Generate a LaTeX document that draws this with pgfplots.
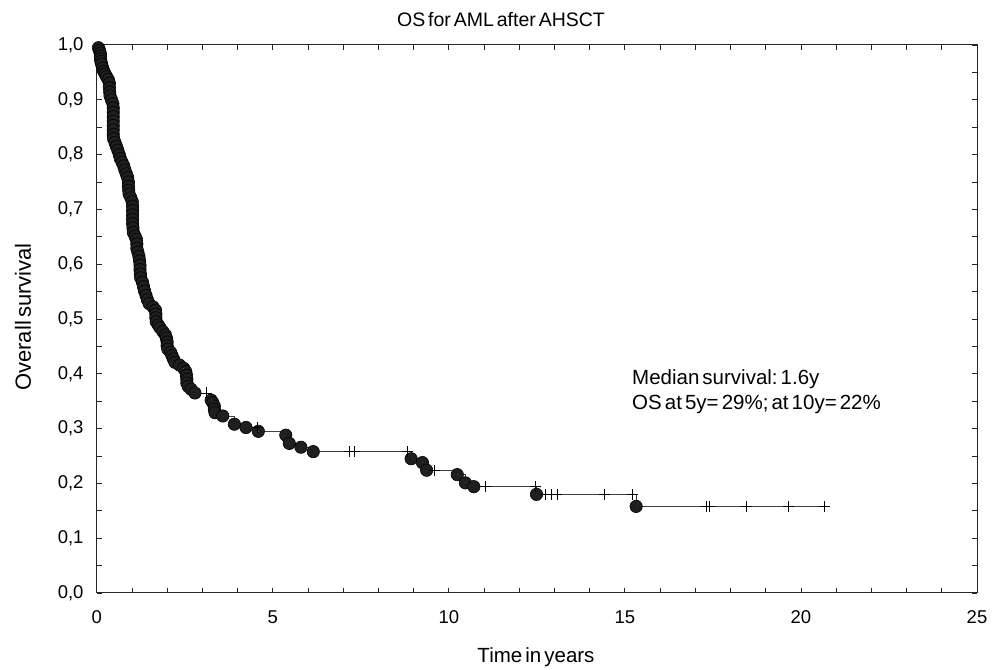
\documentclass[border=0pt]{standalone}
\usepackage{pgfplots}
\pgfplotsset{compat=1.18}
\usepackage{fontspec}
\setmainfont{Liberation Sans}
\newcommand{\nsp}{\hskip0.15em\relax}
\begin{document}
\begin{tikzpicture}
\path[use as bounding box] (0,0) rectangle (1002bp,670bp);
\begin{axis}[
  at={(96.7bp,77bp)}, anchor=south west,
  scale only axis, width=880.3bp, height=548bp,
  xmin=0, xmax=25, ymin=0, ymax=1,
  xtick={0,5,10,15,20,25},
  ytick={0,0.1,0.2,0.3,0.4,0.5,0.6,0.7,0.8,0.9,1.0},
  minor x tick num=4, minor y tick num=1,
  tick align=inside,
  major tick length=5bp, minor tick length=5bp,
  every tick/.style={black!85, line width=0.8bp},
  axis line style={black!85, line width=1bp},
  /pgf/number format/assume math mode=true,
  ticklabel style={font=\fontsize{18.5bp}{22bp}\selectfont},
  xticklabel style={anchor=center, yshift=-24bp},
  yticklabel style={anchor=east, inner sep=0pt, xshift=-13bp,
    /pgf/number format/.cd, use comma, fixed, fixed zerofill, precision=1},
]
% step line
\addplot[const plot, draw=black!75, line width=0.7bp, mark=none] coordinates {
(0,1.0) (0.05,0.995) (0.08,0.990) (0.10,0.985) (0.11,0.980) (0.11,0.975) (0.12,0.970)
(0.14,0.965) (0.17,0.958) (0.20,0.952) (0.24,0.947) (0.28,0.942) (0.33,0.937) (0.36,0.930)
(0.36,0.922) (0.37,0.914) (0.38,0.907) (0.42,0.900) (0.46,0.893) (0.47,0.885) (0.47,0.877)
(0.47,0.869) (0.47,0.861) (0.47,0.853) (0.47,0.845) (0.47,0.837) (0.48,0.829) (0.52,0.822)
(0.56,0.815) (0.60,0.808) (0.64,0.800) (0.67,0.793) (0.72,0.786) (0.77,0.779) (0.80,0.772)
(0.84,0.765) (0.88,0.758) (0.90,0.750) (0.90,0.742) (0.91,0.735) (0.92,0.728) (0.97,0.721)
(1.01,0.714) (1.02,0.706) (1.02,0.698) (1.02,0.690) (1.02,0.682) (1.02,0.674) (1.03,0.666)
(1.04,0.658) (1.09,0.651) (1.13,0.645) (1.14,0.637) (1.14,0.629) (1.17,0.622) (1.20,0.614)
(1.22,0.606) (1.23,0.598) (1.23,0.590) (1.24,0.582) (1.25,0.575) (1.30,0.567) (1.33,0.559)
(1.36,0.551) (1.40,0.543) (1.44,0.535) (1.49,0.528) (1.60,0.522) (1.67,0.516) (1.68,0.509)
(1.68,0.502) (1.69,0.495) (1.75,0.489) (1.80,0.484) (1.88,0.477) (1.95,0.471) (1.98,0.465)
(2.00,0.458) (2.00,0.451) (2.02,0.445) (2.10,0.439) (2.14,0.433) (2.18,0.427) (2.22,0.421)
(2.35,0.416) (2.47,0.410) (2.53,0.404) (2.55,0.397) (2.56,0.390) (2.56,0.383) (2.60,0.377)
(2.68,0.372) (2.79,0.365) (3.25,0.352) (3.30,0.347) (3.34,0.341) (3.34,0.335) (3.36,0.329)
(3.58,0.323) (3.91,0.308) (4.24,0.302) (4.59,0.295) (5.37,0.288) (5.47,0.273) (5.80,0.266)
(6.15,0.258) (8.93,0.245) (9.25,0.238) (9.37,0.224) (10.24,0.216) (10.47,0.201) (10.71,0.194)
(12.49,0.180) (15.32,0.158) (20.76,0.158)
};
% events
\addplot[only marks, mark=*, mark size=6.2bp, mark options={fill=black!88, draw=black, line width=0.6bp}] coordinates {
(0.05,0.995) (0.08,0.990) (0.10,0.985) (0.11,0.980) (0.11,0.975) (0.12,0.970)
(0.14,0.965) (0.17,0.958) (0.20,0.952) (0.24,0.947) (0.28,0.942) (0.33,0.937) (0.36,0.930)
(0.36,0.922) (0.37,0.914) (0.38,0.907) (0.42,0.900) (0.46,0.893) (0.47,0.885) (0.47,0.877)
(0.47,0.869) (0.47,0.861) (0.47,0.853) (0.47,0.845) (0.47,0.837) (0.48,0.829) (0.52,0.822)
(0.56,0.815) (0.60,0.808) (0.64,0.800) (0.67,0.793) (0.72,0.786) (0.77,0.779) (0.80,0.772)
(0.84,0.765) (0.88,0.758) (0.90,0.750) (0.90,0.742) (0.91,0.735) (0.92,0.728) (0.97,0.721)
(1.01,0.714) (1.02,0.706) (1.02,0.698) (1.02,0.690) (1.02,0.682) (1.02,0.674) (1.03,0.666)
(1.04,0.658) (1.09,0.651) (1.13,0.645) (1.14,0.637) (1.14,0.629) (1.17,0.622) (1.20,0.614)
(1.22,0.606) (1.23,0.598) (1.23,0.590) (1.24,0.582) (1.25,0.575) (1.30,0.567) (1.33,0.559)
(1.36,0.551) (1.40,0.543) (1.44,0.535) (1.49,0.528) (1.60,0.522) (1.67,0.516) (1.68,0.509)
(1.68,0.502) (1.69,0.495) (1.75,0.489) (1.80,0.484) (1.88,0.477) (1.95,0.471) (1.98,0.465)
(2.00,0.458) (2.00,0.451) (2.02,0.445) (2.10,0.439) (2.14,0.433) (2.18,0.427) (2.22,0.421)
(2.35,0.416) (2.47,0.410) (2.53,0.404) (2.55,0.397) (2.56,0.390) (2.56,0.383) (2.60,0.377)
(2.68,0.372) (2.79,0.365) (3.25,0.352) (3.30,0.347) (3.34,0.341) (3.34,0.335) (3.36,0.329)
(3.58,0.323) (3.91,0.308) (4.24,0.302) (4.59,0.295) (5.37,0.288) (5.47,0.273) (5.80,0.266)
(6.15,0.258) (8.93,0.245) (9.25,0.238) (9.37,0.224) (10.24,0.216) (10.47,0.201) (10.71,0.194)
(12.49,0.180) (15.32,0.158)
};
% light specks inside the isolated event circles
\addplot[only marks, mark=*, mark size=0.9bp, mark options={fill=black!25, draw=none}] coordinates {
(2.47,0.410) (2.79,0.365) (3.25,0.352) (3.58,0.323) (3.91,0.308) (4.24,0.302) (4.59,0.295)
(5.37,0.288) (5.47,0.273) (5.80,0.266) (6.15,0.258) (8.93,0.245) (9.25,0.238) (9.37,0.224)
(10.24,0.216) (10.47,0.201) (10.71,0.194) (12.49,0.180) (15.32,0.158)
};
% censored
\addplot[only marks, mark=+, mark size=5.5bp, mark options={draw=black, line width=0.8bp}] coordinates {
(3.12,0.365) (4.56,0.302) (7.17,0.258) (7.33,0.258) (8.82,0.258) (9.60,0.224) (11.05,0.194)
(12.47,0.194) (12.74,0.180) (12.90,0.180) (13.07,0.180) (14.41,0.180) (15.21,0.180)
(17.31,0.158) (17.40,0.158) (18.44,0.158) (19.65,0.158) (20.66,0.158)
};
\end{axis}
\node[font=\fontsize{19.5bp}{23bp}\selectfont] at (501bp,650bp) {OS\nsp for\nsp AML\nsp after\nsp AHSCT};
\node[font=\fontsize{20.5bp}{24bp}\selectfont] at (536bp,12.5bp) {Time\nsp in\nsp years};
\node[font=\fontsize{22bp}{26bp}\selectfont, rotate=90] at (23bp,353bp) {Overall\nsp survival};
\node[font=\fontsize{20.5bp}{24bp}\selectfont, anchor=base west, inner sep=0pt] at (632bp,285bp) {Median\nsp survival:\nsp 1.6y};
\node[font=\fontsize{20.5bp}{24bp}\selectfont, anchor=base west, inner sep=0pt] at (632bp,260bp) {OS\nsp at\nsp 5y=\nsp 29\%;\nsp at\nsp 10y=\nsp 22\%};
\end{tikzpicture}
\end{document}
